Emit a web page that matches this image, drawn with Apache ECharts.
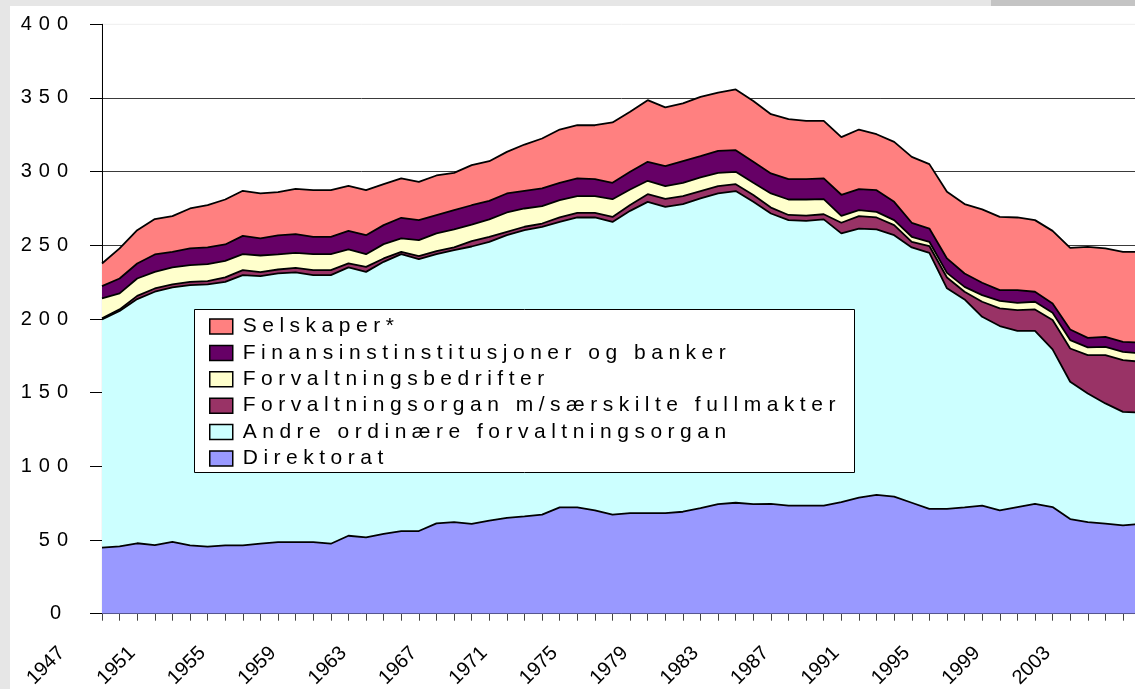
<!DOCTYPE html>
<html>
<head>
<meta charset="utf-8">
<script src="https://cdn.jsdelivr.net/npm/echarts@6/dist/echarts.min.js"></script>
<style>
html,body{margin:0;padding:0;width:1135px;height:689px;overflow:hidden;background:#e6e6e6;}
#topdark{position:absolute;left:991px;top:0;width:144px;height:6px;background:#c4c4c4;}
#chart{position:absolute;left:10px;top:6px;width:1200px;height:683px;background:#ffffff;}
</style>
</head>
<body>
<div id="topdark"></div>
<div id="chart"></div>
<script>
const years = ['1947','1948','1949','1950','1951','1952','1953','1954','1955','1956',
  '1957','1958','1959','1960','1961','1962','1963','1964','1965','1966',
  '1967','1968','1969','1970','1971','1972','1973','1974','1975','1976',
  '1977','1978','1979','1980','1981','1982','1983','1984','1985','1986',
  '1987','1988','1989','1990','1991','1992','1993','1994','1995','1996',
  '1997','1998','1999','2000','2001','2002','2003','2004','2005','2006'];

const direktorat = [44.8,45.7,47.8,46.6,48.8,46.4,45.5,46.4,46.4,47.5,
  48.6,48.6,48.6,47.5,52.9,51.8,54.1,56.1,56.1,61.3,
  62.2,60.9,63.1,65.1,66.1,67.2,72.2,72.2,70.1,67.2,
  68.3,68.3,68.3,69.2,71.7,74.4,75.3,74.4,74.5,73.3,
  73.3,73.3,75.8,78.7,80.7,79.4,75.3,71.2,71.2,72.2,
  73.3,70.1,72.4,74.6,72.4,64.2,62.2,61.1,60.0,60.9];

const andreOrdinaere = [154.9,159.7,165.7,171.9,172.6,176.6,178.0,178.8,183.4,181.6,
  182.3,183.0,181.2,182.3,182.1,180.2,184.7,187.9,184.5,182.7,
  184.5,188.3,189.3,191.8,194.2,195.4,193.7,196.7,198.8,198.7,
  205.1,211.2,207.8,208.8,210.1,210.8,211.5,205.1,197.1,193.8,
  193.3,194.3,182.3,182.7,180.1,177.5,173.3,173.7,149.6,141.1,
  128.2,125.1,119.6,117.4,107.0,93.2,87.3,81.6,77.0,75.5];

const saerskilte = [0.7,1.1,2.2,2.2,2.1,2.2,2.2,3.0,3.4,2.7,
  2.7,3.1,3.4,3.4,2.7,3.4,2.3,1.6,2.1,2.1,
  1.9,3.6,3.4,2.3,2.3,2.2,3.0,3.1,3.1,3.4,
  3.9,5.2,5.4,5.4,5.0,5.0,4.7,4.6,4.0,3.5,
  3.5,3.5,7.2,8.4,8.1,6.8,3.8,4.6,7.4,5.2,
  10.2,12.0,14.0,14.5,19.9,22.6,26.0,32.8,35.1,34.6];

const bedrifter = [13.6,10.9,11.8,11.3,11.5,11.4,11.5,11.3,10.8,11.3,
  10.2,10.2,10.8,10.8,9.5,8.6,9.7,9.1,10.8,12.0,
  12.2,11.2,11.8,13.1,12.4,11.8,11.8,11.4,11.4,12.0,
  10.6,9.1,8.7,9.0,9.3,9.0,8.4,8.3,9.6,10.5,
  11.0,10.2,4.7,4.1,3.8,3.4,3.4,2.9,3.1,3.3,
  4.5,5.1,5.0,5.2,4.9,5.7,5.2,5.6,5.6,5.7];

const finans = [8.3,10.1,10.2,11.8,10.6,11.3,11.4,11.1,12.4,11.6,
  12.9,12.7,11.8,11.8,12.6,12.9,12.9,14.0,13.6,12.4,
  13.1,13.2,12.6,12.9,12.0,12.0,11.7,12.0,11.5,11.1,
  12.0,12.9,13.5,14.7,14.4,14.9,14.7,14.3,13.6,13.8,
  13.8,14.1,14.3,14.2,14.7,12.4,9.5,9.0,9.8,9.1,
  8.4,7.3,8.6,6.8,6.4,7.2,6.5,6.8,6.8,7.2];

const selskaper = [15.4,20.4,22.6,24.0,24.2,27.1,28.7,30.5,30.6,30.5,
  29.4,30.7,31.6,31.6,30.6,30.5,27.8,26.7,26.0,26.9,
  25.3,27.2,26.9,28.2,31.4,33.9,36.2,36.1,36.6,41.0,
  40.7,41.8,39.9,39.2,40.2,39.6,41.2,41.3,40.2,40.7,
  39.6,39.1,39.1,40.5,38.0,40.7,44.7,43.7,45.2,47.1,
  49.8,49.7,49.3,48.6,49.2,55.4,61.8,60.0,61.1,61.7];

const yTicks = {min:0, max:400, step:50};

const FONT = '"Liberation Sans", Arial, sans-serif';

const defs = [
  {name:'Direktorat', data:direktorat, color:'#9999FF'},
  {name:'Andre ordinære forvaltningsorgan', data:andreOrdinaere, color:'#CCFFFF'},
  {name:'Forvaltningsorgan m/særskilte fullmakter', data:saerskilte, color:'#993366'},
  {name:'Forvaltningsbedrifter', data:bedrifter, color:'#FFFFCC'},
  {name:'Finansinstinstitusjoner og banker', data:finans, color:'#660066'},
  {name:'Selskaper*', data:selskaper, color:'#FF8080'}
];

function spaced(s, first, mid, last) {
  const chars = Array.from(s);
  return chars.map((ch, i) => {
    const st = i === 0 ? first : (i === chars.length - 1 ? last : mid);
    return '{' + st + '|' + ch + '}';
  }).join('');
}

const series = [];
defs.forEach(d => {
  series.push({
    name: d.name, type: 'line', stack: 'area', data: d.data,
    symbol: 'none', showSymbol: false, silent: true,
    color: d.color,
    lineStyle: {color: d.color, width: 0},
    itemStyle: {color: d.color},
    areaStyle: {color: d.color, opacity: 1},
    emphasis: {disabled: true},
    z: 2
  });
});
defs.forEach(d => {
  series.push({
    name: d.name + ' (kant)', type: 'line', stack: 'outline', data: d.data,
    symbol: 'none', showSymbol: false, silent: true,
    lineStyle: {color: '#000000', width: 1.8},
    emphasis: {disabled: true},
    z: 3
  });
});

const chart = echarts.init(document.getElementById('chart'), null, {renderer: 'canvas'});
chart.setOption({
  animation: false,
  textStyle: {fontFamily: FONT},
  grid: {left: 92, top: 18.3, right: 69.4, bottom: 75.3, show: true,
         borderColor: '#eeeeee', borderWidth: 1, backgroundColor: 'transparent',
         containLabel: false, outerBoundsMode: 'none'},
  xAxis: {
    type: 'category', data: years, boundaryGap: false,
    axisLine: {show: true, lineStyle: {color: '#000', width: 1}},
    axisTick: {show: true, interval: 0, length: 7, lineStyle: {color: '#444'}},
    axisLabel: {interval: 3, rotate: 45, margin: -4, fontSize: 20, fontFamily: FONT,
                color: '#000', padding: [0, 57, 0, 0]},
    splitLine: {show: false}
  },
  yAxis: {
    type: 'value', min: yTicks.min, max: yTicks.max, interval: yTicks.step,
    axisLine: {show: true, lineStyle: {color: '#000', width: 1}},
    axisTick: {show: true, length: 12, lineStyle: {color: '#000'}},
    axisLabel: {
      margin: 34, color: '#000', fontSize: 20, fontFamily: FONT,
      formatter: v => spaced(String(v), 'd', 'd', 'e'),
      rich: {
        d: {fontSize: 20, fontFamily: FONT, color: '#000', padding: [0, 7, 0, 0]},
        e: {fontSize: 20, fontFamily: FONT, color: '#000'}
      }
    },
    splitLine: {show: true, showMaxLine: false, lineStyle: {color: '#3a3a3a', width: 1}}
  },
  legend: {
    data: ['Selskaper*', 'Finansinstinstitusjoner og banker', 'Forvaltningsbedrifter',
           'Forvaltningsorgan m/særskilte fullmakter', 'Andre ordinære forvaltningsorgan', 'Direktorat'],
    orient: 'vertical', left: 199, top: 310, padding: 0, itemGap: 5.4,
    itemWidth: 23, itemHeight: 15, icon: 'rect', selectedMode: false, z: 20,
    itemStyle: {borderColor: '#000', borderWidth: 1.5, opacity: 1},
    formatter: name => spaced(name, 'f', 'c', 'c'),
    textStyle: {
      fontFamily: FONT, fontSize: 21, color: '#000',
      rich: {
        f: {fontFamily: FONT, fontSize: 21, color: '#000', lineHeight: 20, padding: [0, 5.5, 0, 5]},
        c: {fontFamily: FONT, fontSize: 21, color: '#000', lineHeight: 20, padding: [0, 5.5, 0, 0]}
      }
    }
  },
  graphic: [{
    type: 'rect', z: 10, silent: true,
    shape: {x: 184.5, y: 303.5, width: 660, height: 163},
    style: {fill: '#ffffff', stroke: '#000000', lineWidth: 1}
  }],
  series: series
});
</script>
</body>
</html>
